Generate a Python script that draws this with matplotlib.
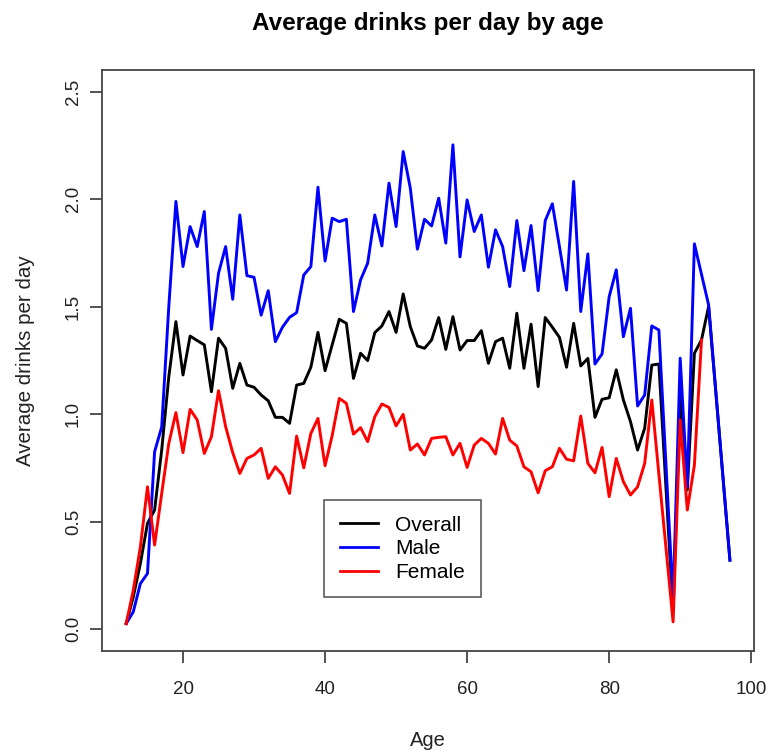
import numpy as np
import matplotlib
matplotlib.use("Agg")
import matplotlib.pyplot as plt

plt.rcParams["font.family"] = ["Liberation Sans", "DejaVu Sans"]

# average drinks per day, by age (ages with no respondents are skipped)
age_all = list(range(12, 88)) + [89, 90, 91, 92, 93, 94, 97]
overall = [0.026, 0.150, 0.306, 0.492, 0.554, 0.833, 1.174, 1.430, 1.182, 1.363,
           1.342, 1.322, 1.104, 1.353, 1.306, 1.120, 1.236, 1.135, 1.125, 1.089,
           1.062, 0.985, 0.985, 0.957, 1.135, 1.143, 1.218, 1.380, 1.202, 1.322,
           1.441, 1.422, 1.166, 1.283, 1.249, 1.379, 1.410, 1.477, 1.380, 1.559,
           1.407, 1.317, 1.306, 1.345, 1.449, 1.301, 1.453, 1.298, 1.342, 1.342,
           1.388, 1.236, 1.337, 1.353, 1.213, 1.469, 1.213, 1.418, 1.128, 1.449,
           1.404, 1.357, 1.218, 1.422, 1.224, 1.259, 0.985, 1.069, 1.076, 1.206,
           1.066, 0.965, 0.833, 0.934, 1.228, 1.233,
           0.080, 1.097, 0.647, 1.283, 1.345, 1.500, 0.321]

age_male = list(range(12, 88)) + [89, 90, 91, 92, 94, 97]
male = [0.026, 0.081, 0.212, 0.259, 0.825, 0.940, 1.500, 1.989, 1.686, 1.872,
        1.779, 1.942, 1.394, 1.655, 1.779, 1.534, 1.926, 1.644, 1.636, 1.460,
        1.574, 1.337, 1.404, 1.450, 1.472, 1.647, 1.686, 2.055, 1.712, 1.911,
        1.895, 1.906, 1.477, 1.624, 1.702, 1.926, 1.782, 2.074, 1.872, 2.221,
        2.051, 1.767, 1.906, 1.875, 2.004, 1.795, 2.252, 1.731, 1.996, 1.849,
        1.926, 1.683, 1.857, 1.779, 1.593, 1.900, 1.667, 1.877, 1.574, 1.900,
        1.978, 1.779, 1.577, 2.082, 1.477, 1.745, 1.233, 1.280, 1.546, 1.671,
        1.360, 1.492, 1.038, 1.089, 1.410, 1.391,
        0.135, 1.260, 0.662, 1.792, 1.508, 0.321]

age_female = list(range(12, 88)) + [89, 90, 91, 92, 93]
female = [0.026, 0.181, 0.383, 0.662, 0.391, 0.631, 0.864, 1.007, 0.821, 1.022,
          0.973, 0.817, 0.895, 1.109, 0.942, 0.821, 0.724, 0.794, 0.810, 0.841,
          0.701, 0.755, 0.717, 0.631, 0.898, 0.750, 0.910, 0.980, 0.760, 0.900,
          1.073, 1.050, 0.907, 0.937, 0.872, 0.988, 1.047, 1.031, 0.945, 0.999,
          0.833, 0.861, 0.810, 0.887, 0.892, 0.895, 0.810, 0.864, 0.752, 0.856,
          0.887, 0.864, 0.814, 0.980, 0.879, 0.852, 0.755, 0.732, 0.634, 0.737,
          0.755, 0.841, 0.790, 0.783, 0.991, 0.771, 0.727, 0.845, 0.616, 0.794,
          0.686, 0.624, 0.662, 0.771, 1.066, 0.720,
          0.034, 0.973, 0.554, 0.763, 1.345]

fig = plt.figure(figsize=(7.73, 7.56), dpi=100)
ax = fig.add_axes([0.132, 0.1393, 0.8435, 0.7681])

ax.plot(age_all, overall, color="black", lw=2.1, label="Overall")
ax.plot(age_male, male, color="blue", lw=2.1, label="Male")
ax.plot(age_female, female, color="red", lw=2.1, label="Female")

ax.set_xlim(8.6, 100.4)
ax.set_ylim(-0.1, 2.6)
ax.set_xticks([20, 40, 60, 80, 100])
ax.set_yticks([0.0, 0.5, 1.0, 1.5, 2.0, 2.5])
ax.set_yticklabels(["0.0", "0.5", "1.0", "1.5", "2.0", "2.5"])

for s in ax.spines.values():
    s.set_color("#444444")
    s.set_linewidth(1.3)
ax.tick_params(direction="out", length=8.6, width=1.3, color="#444444",
               labelsize=13.5, labelcolor="#222222")
ax.tick_params(axis="x", pad=13)
ax.tick_params(axis="y", pad=6, labelrotation=90)
for t in ax.get_yticklabels():
    t.set_verticalalignment("center")

ax.set_xlabel("Age", fontsize=14.5, color="#222222")
ax.xaxis.set_label_coords(0.5, -0.154)
ax.xaxis.label.set_verticalalignment("center")
ax.set_ylabel("Average drinks per day", fontsize=14.8, color="#222222")
ax.yaxis.set_label_coords(-0.118, 0.5)
ax.yaxis.label.set_verticalalignment("center")

ax.set_title("Average drinks per day by age", fontsize=17.5, fontweight="bold",
             y=1.066, va="center")

leg = ax.legend(loc="upper left", bbox_to_anchor=(0.341, 0.2595), borderaxespad=0,
                fontsize=15, frameon=True, fancybox=False, handlelength=1.8,
                handletextpad=0.85, labelspacing=0.22, borderpad=0.75)
leg.get_frame().set_edgecolor("#333333")
leg.get_frame().set_linewidth(1.2)
for line in leg.get_lines():
    line.set_linewidth(2.0)

fig.savefig("out.png", dpi=100)
